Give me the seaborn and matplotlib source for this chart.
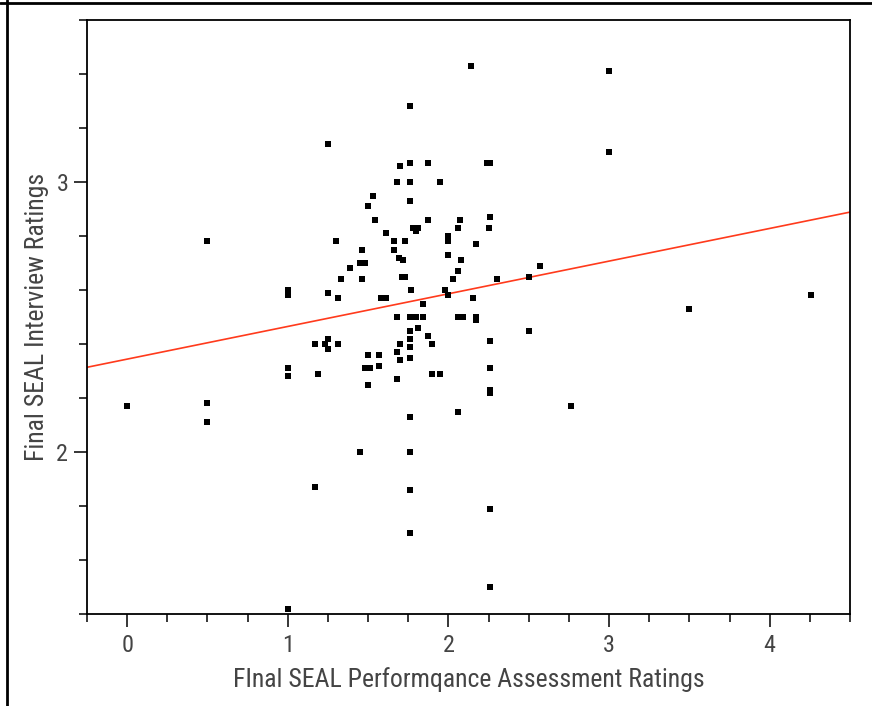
import matplotlib
matplotlib.use("Agg")
import matplotlib.pyplot as plt
import seaborn as sns
import pandas as pd
import numpy as np
from matplotlib.lines import Line2D
from matplotlib.ticker import MultipleLocator, FixedLocator
from matplotlib import font_manager

# ---- data ----
perf = [0, 0.5, 0.5, 0.5, 1, 1, 1, 1, 1, 1.17, 1.19, 1.17, 1.25, 1.25, 1.25, 1.23, 1.25,
        1.31, 1.31, 1.30, 1.33, 1.39, 1.46, 1.46, 1.45, 1.48, 1.45, 1.50, 1.53, 1.54,
        1.50, 1.57, 1.57, 1.48, 1.51, 1.50, 1.58, 1.61, 1.61, 1.66, 1.66, 1.68, 1.70,
        1.76, 1.87, 2.24, 2.26, 1.76, 1.76, 1.95, 1.76, 1.87, 2.07, 2.26, 2.06, 2.25,
        1.78, 1.81, 1.80, 1.73, 2.00, 2.00, 2.17, 2.00, 1.69, 1.72, 2.08, 2.06, 1.71,
        1.73, 2.03, 2.30, 2.50, 2.57, 1.77, 1.98, 2.00, 2.15, 1.84, 1.68, 1.76, 1.80,
        1.84, 2.06, 2.09, 2.17, 2.17, 2.50, 1.76, 1.76, 1.81, 1.87, 1.90, 1.70, 1.68,
        1.76, 1.76, 1.70, 1.68, 1.90, 1.95, 2.26, 2.26, 2.26, 2.26, 2.06, 1.76, 1.76,
        1.76, 1.76, 2.26, 2.26, 2.14, 3.00, 3.00, 2.76, 3.50, 4.26]
interview = [2.17, 2.78, 2.18, 2.11, 2.60, 2.58, 2.31, 2.28, 1.42, 2.40, 2.29, 1.87, 3.14,
             2.59, 2.42, 2.40, 2.38, 2.57, 2.40, 2.78, 2.64, 2.68, 2.75, 2.64, 2.70, 2.70,
             2.00, 2.91, 2.95, 2.86, 2.36, 2.36, 2.32, 2.31, 2.31, 2.25, 2.57, 2.57, 2.81,
             2.78, 2.75, 3.00, 3.06, 3.07, 3.07, 3.07, 3.07, 3.28, 3.00, 3.00, 2.93, 2.86,
             2.86, 2.87, 2.83, 2.83, 2.83, 2.83, 2.82, 2.78, 2.80, 2.78, 2.77, 2.73, 2.72,
             2.71, 2.71, 2.67, 2.65, 2.65, 2.64, 2.64, 2.65, 2.69, 2.60, 2.60, 2.58, 2.57,
             2.55, 2.50, 2.50, 2.50, 2.50, 2.50, 2.50, 2.50, 2.49, 2.45, 2.45, 2.42, 2.46,
             2.43, 2.40, 2.40, 2.37, 2.39, 2.35, 2.34, 2.27, 2.29, 2.29, 2.41, 2.31, 2.23,
             2.22, 2.15, 2.13, 2.00, 1.86, 1.70, 1.79, 1.50, 3.43, 3.41, 3.11, 2.17, 2.53,
             2.58]

# fitted line as shown in the chart (intercept, slope)
fit_intercept = 2.344
fit_slope = 0.121

x_label = "FInal SEAL Performqance Assessment Ratings"
y_label = "Final SEAL Interview Ratings"
x_major = [0, 1, 2, 3, 4]
y_major = [2, 3]
x_range = [-0.25, 4.5]
y_range = [1.4, 3.6]

df = pd.DataFrame({"perf": perf, "interview": interview})
fit_df = pd.DataFrame({"perf": x_range,
                       "interview": [fit_intercept + fit_slope * v for v in x_range]})

sns.set_theme(style="white")
names = {f.name for f in font_manager.fontManager.ttflist}
fams = []
for cand in ["Roboto Condensed", "Liberation Sans Narrow", "Arial Narrow", "Open Sans Condensed"]:
    if cand in names:
        fams.append(cand)
fams += ["DejaVu Sans"]
plt.rcParams["font.family"] = fams
condensed = len(fams) > 1
if not condensed:
    plt.rcParams["font.stretch"] = "condensed"

fig = plt.figure(figsize=(8.72, 7.06), dpi=100)
fig.patch.set_facecolor("white")
ax = fig.add_axes([87 / 872, 1 - 614 / 706, (850 - 87) / 872, (614 - 20) / 706])

sns.lineplot(data=fit_df, x="perf", y="interview", ax=ax, color="#ff3a1c",
             linewidth=1.2, zorder=2)
sns.scatterplot(data=df, x="perf", y="interview", ax=ax, marker="s", s=22,
                color="black", linewidth=0, zorder=3)

ax.set_xlim(*x_range)
ax.set_ylim(*y_range)
ax.xaxis.set_major_locator(FixedLocator(x_major))
ax.yaxis.set_major_locator(FixedLocator(y_major))
ax.xaxis.set_minor_locator(MultipleLocator(0.25))
ax.yaxis.set_minor_locator(MultipleLocator(0.2))

text_c = "#444444"
lab_fs = 18.5 if condensed else 15
tick_fs = 17.5 if condensed else 14
ax.tick_params(axis="both", which="major", direction="out", length=9.5, width=1.1,
               color="black", labelsize=tick_fs, labelcolor=text_c, bottom=True, left=True)
ax.tick_params(axis="both", which="minor", direction="out", length=5.5, width=1.1,
               color="black", bottom=True, left=True)
ax.tick_params(axis="x", which="major", pad=5)
ax.tick_params(axis="y", which="major", pad=4)

for sp in ax.spines.values():
    sp.set_color("black")
    sp.set_linewidth(1.3)
    sp.set_visible(True)

ax.set_xlabel(x_label, fontsize=lab_fs, color=text_c, labelpad=7)
ax.set_ylabel(y_label, fontsize=lab_fs, color=text_c, labelpad=5)
ax.grid(False)

# screenshot frame lines
fig.add_artist(Line2D([0, 1], [1 - 3 / 706, 1 - 3 / 706], transform=fig.transFigure,
                      color="black", linewidth=2))
fig.add_artist(Line2D([7 / 872, 7 / 872], [0, 1], transform=fig.transFigure,
                      color="black", linewidth=2))

fig.savefig("out.png", dpi=100, facecolor="white")
